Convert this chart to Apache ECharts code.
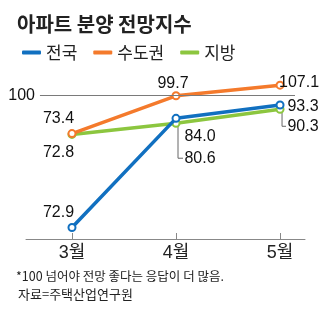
<!DOCTYPE html>
<html><head><meta charset="utf-8">
<script src="https://cdn.jsdelivr.net/npm/echarts@6/dist/echarts.min.js"></script>
<style>html,body{margin:0;padding:0;background:#fff}#c{width:329px;height:332px}</style>
</head><body><div id="c"></div>
<script>
// ---- data ----
const categories = ['3월', '4월', '5월'];
const seriesNames = ['전국', '수도권', '지방'];
// printed value labels
const nationalLabels = ['72.9', '84.0', '93.3'];
const capitalLabels = ['73.4', '99.7', '107.1'];
const regionalLabels = ['72.8', '80.6', '90.3'];
// plotted heights as drawn in the picture (the 3월 전국 point sits near the baseline in the original)
const nationalValues = [8, 84.0, 93.3];
const capitalValues = [73.4, 99.7, 107.1];
const regionalValues = [72.8, 80.6, 90.3];
const referenceValue = 100;
const titleText = '아파트 분양 전망지수';
const noteText = '*100 넘어야 전망 좋다는 응답이 더 많음.';
const sourceText = '자료=주택산업연구원';

const colors = ['#1170c0', '#f47a2c', '#8cc63f'];
const numFont = "'Liberation Sans','Noto Sans CJK KR',sans-serif";
const krFont = "'Noto Sans CJK KR',sans-serif";

// label offsets (px) relative to points
const offsets = {
  0: [[-13.5, -15], [24, 18], [23, 2]],
  1: [[-13.5, -15], [-3, -12], [19, -3]],
  2: [[-13.5, 18], [24, 35], [23, 17]]
};
const leaderIdx = [1, 2]; // regional points with leader lines

function mk(values, labels, si) {
  return values.map((v, i) => ({
    value: [i, v],
    label: {
      show: true, position: 'inside', offset: offsets[si][i],
      formatter: labels[i], fontFamily: numFont, fontSize: 16, color: '#111'
    }
  }));
}

const chart = echarts.init(document.getElementById('c'), null, {renderer: 'canvas'});
const allVals = [nationalValues, capitalValues, regionalValues];
const allLabels = [nationalLabels, capitalLabels, regionalLabels];
const zs = [4, 3, 2];

const series = seriesNames.map((n, si) => ({
  name: n, type: 'line', z: zs[si],
  data: mk(allVals[si], allLabels[si], si),
  symbol: 'emptyCircle', symbolSize: 7,
  lineStyle: {color: colors[si], width: 3.5},
  itemStyle: {color: colors[si], borderWidth: 1.5},
  emphasis: {disabled: true},
  animation: false
}));
series[1].markLine = {
  silent: true, symbol: 'none', animation: false,
  lineStyle: {color: '#7a7a7a', width: 1, type: 'solid'},
  label: {show: true, position: 'start', distance: 5, formatter: String(referenceValue),
          fontFamily: numFont, fontSize: 16, color: '#111'},
  data: [[{coord: [-0.308, referenceValue]}, {coord: [2.144, referenceValue]}]]
};

const texts = [
  {type: 'text', left: 16, top: 270, style: {text: noteText, font: "12.5px 'Noto Sans CJK KR'", fill: '#222'}},
  {type: 'text', left: 18, top: 288, style: {text: sourceText, font: "13px 'Noto Sans CJK KR'", fill: '#222'}}
];

chart.setOption({
  animation: false,
  title: {text: titleText, left: 12, top: 9,
          textStyle: {fontFamily: krFont, fontSize: 20, fontWeight: 'bold', color: '#222'}},
  legend: {
    left: 17, top: 39, itemWidth: 19, itemHeight: 4, itemGap: 16, icon: 'roundRect',
    data: seriesNames.map((n, i) => ({name: n, itemStyle: {color: colors[i]}})),
    textStyle: {fontFamily: krFont, fontSize: 17, color: '#222'}
  },
  grid: {left: 26, right: 24, top: 81, bottom: 93},
  xAxis: {
    type: 'value', min: -0.442, max: 2.24,
    axisLine: {show: true, onZero: false, lineStyle: {color: '#888', width: 1}},
    axisTick: {show: true, inside: true, length: 6, customValues: [0, 1, 2], lineStyle: {color: '#888'}},
    axisLabel: {customValues: [0, 1, 2], formatter: v => categories[Math.round(v)],
                margin: 5, fontFamily: numFont, fontSize: 18, color: '#222'},
    splitLine: {show: false}
  },
  yAxis: {type: 'value', min: 0, max: 110, show: false},
  series: series,
  graphic: texts
});

// leader lines for regional labels, derived from the points and label offsets
const extra = leaderIdx.map(i => {
  const p = chart.convertToPixel({xAxisIndex: 0, yAxisIndex: 0}, [i, regionalValues[i]]);
  const off = offsets[2][i];
  const ly = p[1] + off[1];
  const lx = p[0] + off[0] - 17;
  return {type: 'polyline', silent: true, z: 1,
    shape: {points: [[p[0] + 2, p[1] + 3], [p[0] + 2, ly], [lx, ly]]},
    style: {stroke: '#666', lineWidth: 1, fill: null}};
});
chart.setOption({graphic: texts.concat(extra)});
</script></body></html>
